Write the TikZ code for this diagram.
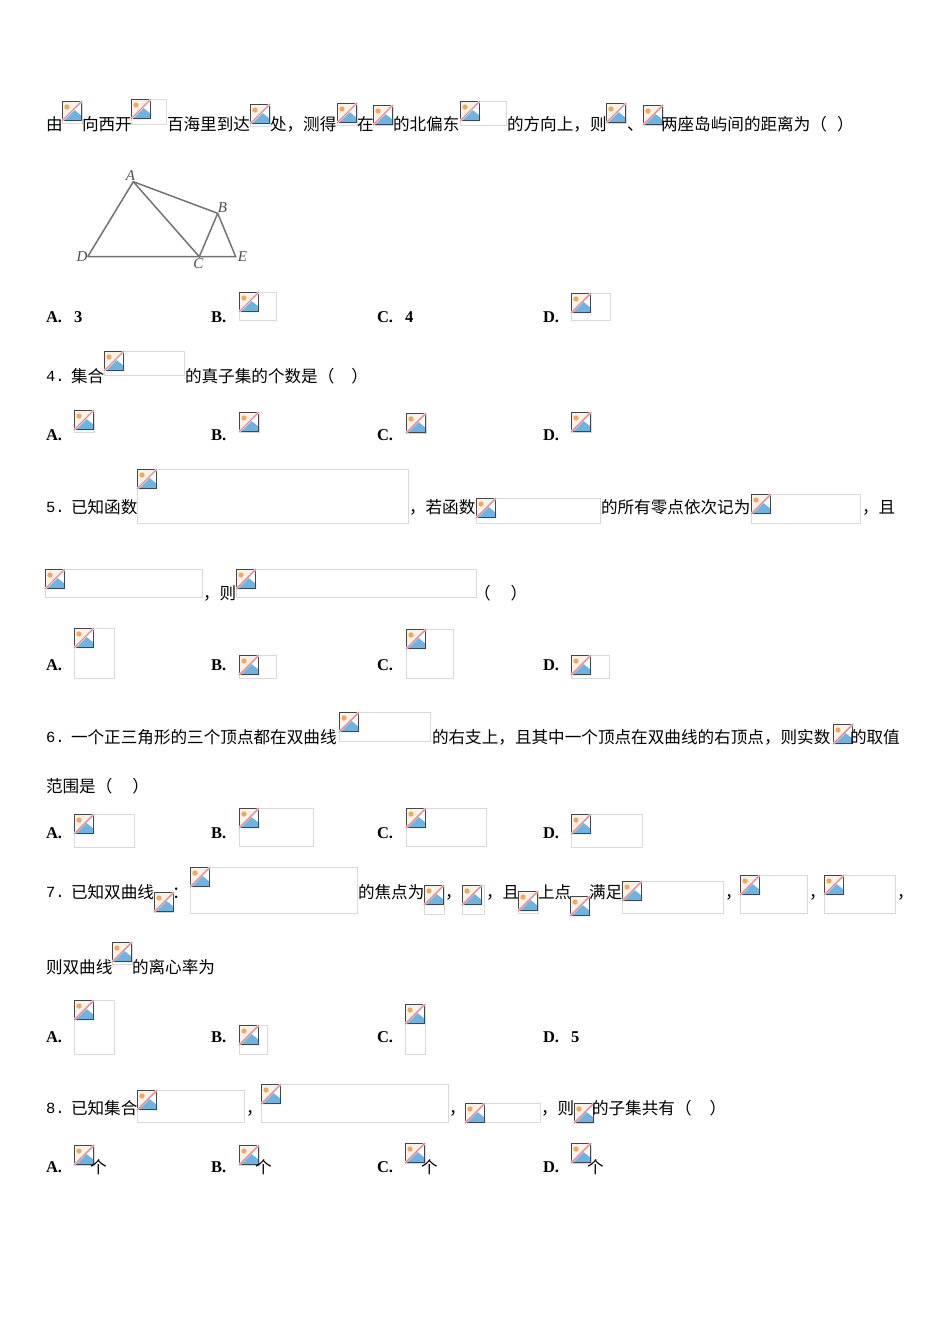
\documentclass[tikz,border=0pt]{standalone}
\usepackage{fontspec}
\setmainfont{Liberation Serif}
\newfontfamily\cjk{Noto Sans CJK SC}
\newfontfamily\mono{Liberation Mono}
\newcounter{tn}
\newcommand{\zc}{\char"FF0C\relax}
\newcommand{\zl}{\char"FF08\relax}
\newcommand{\zr}{\char"FF09\relax}
\newcommand{\zk}{\char"FF1A\relax}
\tikzset{
  txt/.style={anchor=base west,inner sep=0pt,outer sep=0pt,font=\cjk\fontsize{16.6}{16.6}\selectfont,text=black},
  opt/.style={anchor=base west,inner sep=0pt,outer sep=0pt,font=\bfseries\fontsize{16.5}{17}\selectfont,text=black},
  num/.style={anchor=base west,inner sep=0pt,outer sep=0pt,font=\mono\fontsize{15.5}{16}\selectfont,text=black},
  fig/.style={inner sep=0pt,font=\itshape\fontsize{15}{15}\selectfont,text=black!70},
  frame/.style={draw=black!15,line width=1pt,fill=white},
  edge/.style={draw=black!55,line width=1.5pt}
}
\definecolor{icsky}{HTML}{FBF1E6}
\definecolor{icblue}{HTML}{6FB3E3}
\definecolor{icred}{HTML}{E2888E}
\definecolor{icdark}{HTML}{3E4650}
\definecolor{icsun}{HTML}{F0A95A}
\newcommand{\ph}[4]{%
  \draw[frame] (#1,#2) rectangle ++(#3,#4);
  \begin{scope}[shift={(#1,#2)}]
    \fill[icsky] (0,0) rectangle (20,20);
    \fill[white] (20,0) -- (20,20) -- (0,20) -- cycle;
    \fill[icblue] (1,20) -- (12,8.5) -- (20,15) -- (20,20) -- cycle;
    \fill[icsun] (5,6) circle (2.6);
    \draw[icdark,line width=1.1pt] (0.5,0.5) rectangle (19.5,19.5);
    \draw[white,line width=2.2pt] (0,20) -- (20,0);
    \draw[icred,line width=1.4pt] (0,20) -- (20,0);
  \end{scope}}
\newcommand{\tx}[3]{\stepcounter{tn}\node[txt] (t\arabic{tn}) at (#1,#2) {#3};}
\newcommand{\op}[3]{\stepcounter{tn}\node[opt] (t\arabic{tn}) at (#1,#2) {#3};}
\newcommand{\nm}[3]{\stepcounter{tn}\node[num] (t\arabic{tn}) at (#1,#2) {#3};}
\begin{document}
\begin{tikzpicture}[x=1pt,y=-1pt]
\useasboundingbox (0,0) rectangle (950,1344);
\fill[white] (0,0) rectangle (950,1344);
% line 1
\tx{46}{130}{由}\ph{62}{101}{20}{22}\tx{82}{130}{向西开}\ph{131}{99}{35}{25}\tx{167}{130}{百海里到达}
\ph{250}{104}{20}{22}\tx{270}{130}{处\zc{}测得}\ph{337}{103}{20}{22}\tx{357}{130}{在}\ph{373}{105}{20}{20}
\tx{393}{130}{的北偏东}\ph{460}{101}{46}{24}\tx{507}{130}{的方向上\zc{}则}\ph{606}{103}{20}{20}\tx{627}{130}{、}
\ph{643}{105}{20}{20}\tx{661}{130}{两座岛屿间的距离为\zl{}\hspace{10pt}\zr{}}
% figure
\coordinate (A) at (133.3,181.7);
\coordinate (B) at (217.7,213.3);
\coordinate (C) at (199.3,256.7);
\coordinate (D) at (87.7,256.7);
\coordinate (E) at (235.7,256.7);
\draw[edge] (D) -- (A) -- (B) -- (E) -- (D);
\draw[edge] (A) -- (C) -- (B);
\node[fig] (la) at (130.5,175.5) {A};
\node[fig] (lb) at (222.5,207.5) {B};
\node[fig] (lc) at (198.5,263.5) {C};
\node[fig] (ld) at (82,257) {D};
\node[fig] (le) at (242.5,257) {E};
% options row 1
\op{46}{322.5}{A.}\op{74}{322.5}{3}\op{211}{322.5}{B.}\ph{239}{292}{37}{28}\op{377}{322.5}{C.}\op{405}{322.5}{4}\op{543}{322.5}{D.}\ph{571}{293}{39}{27}
% q4
\nm{46}{381}{4.}\tx{71}{382}{集合}\ph{104}{351}{80}{24}\tx{185}{382}{的真子集的个数是\zl{}\hspace{17pt}\zr{}}
\op{46}{440.5}{A.}\ph{74}{410}{20}{22}\op{211}{440.5}{B.}\ph{239}{412}{20}{20}\op{377}{440.5}{C.}\ph{406}{413}{20}{20}\op{543}{440.5}{D.}\ph{571}{412}{20}{20}
% q5
\nm{46}{512}{5.}\tx{71}{513}{已知函数}\ph{137}{469}{271}{54}\tx{409}{513}{\zc{}若函数}\ph{476}{498}{124}{25}
\tx{601}{513}{的所有零点依次记为}\ph{751}{494}{109}{29}\tx{862}{513}{\zc{}且}
\ph{45}{569}{157}{28}\tx{203}{599}{\zc{}则}\ph{236}{569}{240}{28}\tx{474}{599}{\zl{}\hspace{20pt}\zr{}}
\op{46}{670.5}{A.}\ph{74}{628}{40}{50}\op{211}{670.5}{B.}\ph{239}{655}{37}{23}\op{377}{670.5}{C.}\ph{406}{629}{47}{49}\op{543}{670.5}{D.}\ph{571}{655}{38}{23}
% q6
\nm{46}{742}{6.}\tx{71}{743}{一个正三角形的三个顶点都在双曲线}\ph{339}{712}{91}{29}
\tx{432}{743}{的右支上\zc{}且其中一个顶点在双曲线的右顶点\zc{}则实数}\ph{833}{724}{17}{18}\tx{850}{743}{的取值}
\tx{46}{792}{范围是\zl{}\hspace{20pt}\zr{}}
\op{46}{838.5}{A.}\ph{74}{814}{60}{33}\op{211}{838.5}{B.}\ph{239}{808}{74}{38}\op{377}{838.5}{C.}\ph{406}{808}{80}{38}\op{543}{838.5}{D.}\ph{571}{814}{71}{33}
% q7
\nm{46}{897}{7.}\tx{71}{898}{已知双曲线}\ph{154}{892}{19}{20}\tx{172}{898}{\zk{}}\ph{190}{867}{167}{46}\tx{358}{898}{的焦点为}
\ph{424}{885}{20}{29}\tx{445}{898}{\zc{}}\ph{462}{885}{22}{29}\tx{486}{898}{\zc{}且}\ph{518}{891}{20}{22}\tx{538}{898}{上点}
\ph{570}{896}{19}{18}\tx{589}{898}{满足}\ph{622}{881}{101}{32}\tx{725}{898}{\zc{}}\ph{740}{875}{67}{38}\tx{809}{898}{\zc{}}\ph{824}{875}{71}{38}\tx{897}{898}{\zc{}}
\tx{46}{973}{则双曲线}\ph{112}{942}{20}{22}\tx{132}{973}{的离心率为}
\op{46}{1042.5}{A.}\ph{74}{1000}{40}{54}\op{211}{1042.5}{B.}\ph{239}{1025}{28}{29}\op{377}{1042.5}{C.}\ph{405}{1004}{20}{50}\op{543}{1042.5}{D.}\op{571}{1042.5}{5}
% q8
\nm{46}{1113}{8.}\tx{71}{1114}{已知集合}\ph{137}{1090}{107}{32}\tx{246}{1114}{\zc{}}\ph{261}{1084}{187}{38}\tx{449}{1114}{\zc{}}\ph{465}{1103}{75}{19}\tx{541}{1114}{\zc{}则}\ph{574}{1103}{18}{20}\tx{592}{1114}{的子集共有\zl{}\hspace{18pt}\zr{}}
\op{46}{1172.5}{A.}\ph{74}{1145}{20}{20}\tx{90}{1173}{个}\op{211}{1172.5}{B.}\ph{239}{1145}{20}{20}\tx{255}{1173}{个}\op{377}{1172.5}{C.}\ph{405}{1143}{20}{20}\tx{421}{1173}{个}\op{543}{1172.5}{D.}\ph{571}{1143}{20}{20}\tx{587}{1173}{个}
\end{tikzpicture}
\end{document}
